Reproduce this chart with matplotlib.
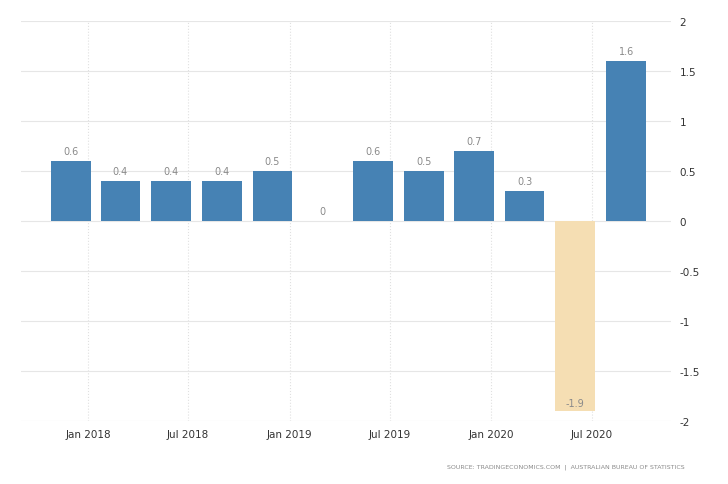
import matplotlib
matplotlib.use("Agg")
import matplotlib.pyplot as plt
import matplotlib.dates as mdates
import datetime as dt

# Data
dates = ["2017-12-01", "2018-03-01", "2018-06-01", "2018-09-01", "2018-12-01",
         "2019-03-01", "2019-06-01", "2019-09-01", "2019-12-01", "2020-03-01",
         "2020-06-01", "2020-09-01"]
values = [0.6, 0.4, 0.4, 0.4, 0.5, 0.0, 0.6, 0.5, 0.7, 0.3, -1.9, 1.6]
tick_dates = ["2018-01-01", "2018-07-01", "2019-01-01", "2019-07-01", "2020-01-01", "2020-07-01"]
tick_labels = ["Jan 2018", "Jul 2018", "Jan 2019", "Jul 2019", "Jan 2020", "Jul 2020"]
y_ticks = [-2, -1.5, -1, -0.5, 0, 0.5, 1, 1.5, 2]
source = "SOURCE: TRADINGECONOMICS.COM  |  AUSTRALIAN BUREAU OF STATISTICS"

pos_color = "#4682B4"
neg_color = "#F5DEB3"

fig = plt.figure(figsize=(7.28, 4.85), dpi=100)
ax = fig.add_axes([21/728, (485-422)/485, (671-21)/728, 400/485])

x = [mdates.date2num(dt.date.fromisoformat(d)) for d in dates]
colors = [pos_color if v >= 0 else neg_color for v in values]
ax.bar(x, values, width=72, color=colors, zorder=3)

for xi, v in zip(x, values):
    if v >= 0:
        ax.annotate(f"{v:g}", (xi, v), xytext=(0, 3.5), textcoords="offset points",
                    ha="center", va="bottom", fontsize=7, color="#8a8a8a", zorder=4)
    else:
        ax.annotate(f"{v:g}", (xi, v), xytext=(0, 2.5), textcoords="offset points",
                    ha="center", va="bottom", fontsize=7, color="#8a8a8a", zorder=4)

tx = [mdates.date2num(dt.date.fromisoformat(d)) for d in tick_dates]
ax.set_xticks(tx)
ax.set_xticklabels(tick_labels)
left = tx[0] - 121
right = tx[-1] + 143
ax.set_xlim(left, right)
ax.set_ylim(-2, 2)
ax.set_yticks(y_ticks)
ax.set_yticklabels([f"{t:g}" for t in y_ticks])
ax.yaxis.tick_right()

for s in ax.spines.values():
    s.set_visible(False)
ax.tick_params(axis="both", length=0, labelsize=7.5, colors="#333333")
ax.tick_params(axis="y", pad=6)
ax.tick_params(axis="x", pad=6)

ax.grid(axis="y", color="#e6e6e6", linewidth=0.8, linestyle="-", zorder=0)
ax.grid(axis="x", color="#e0e0e0", linewidth=0.8, linestyle=":", zorder=0)

fig.text(685/728, 1 - 467/485, source, ha="right", va="center", fontsize=4.5,
         color="#8a8a8a")

fig.savefig("out.png", dpi=100)
